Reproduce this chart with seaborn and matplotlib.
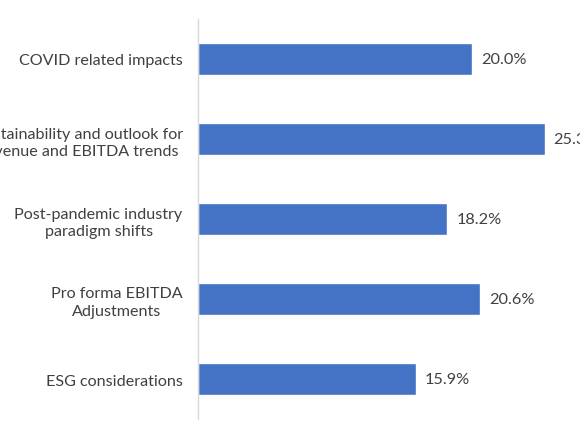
import matplotlib
matplotlib.use('Agg')
import matplotlib.pyplot as plt
import seaborn as sns
import pandas as pd

# Chart data
categories = [
    'COVID related impacts',
    'Sustainability and outlook for\nrevenue and EBITDA trends',
    'Post-pandemic industry\nparadigm shifts',
    'Pro forma EBITDA\nAdjustments',
    'ESG considerations',
]
shares = [20.0, 25.3, 18.2, 20.6, 15.9]

df = pd.DataFrame({'category': categories, 'share': shares})

sns.set_style('white')
plt.rcParams['font.family'] = ['Lato', 'DejaVu Sans']

fig = plt.figure(figsize=(5.8, 4.35), dpi=100)
# axes reaches past the right edge, like the cropped original
ax = fig.add_axes([198 / 580, 15 / 435, 411 / 580, 400 / 435])

sns.barplot(data=df, x='share', y='category', color='#4472C4', width=0.4,
            saturation=1, ax=ax)

for bar, v in zip(ax.patches, shares):
    ax.text(bar.get_width() + 0.65, bar.get_y() + bar.get_height() / 2,
            f'{v:.1f}%', va='center', ha='left', fontsize=11.7, color='#404040')

ax.set_xlim(0, 30)
ax.set_ylim(4.5, -0.5)
ax.set_xlabel('')
ax.set_ylabel('')
ax.set_xticks([])
ax.tick_params(axis='y', length=0, pad=11, labelsize=11.6, labelcolor='#404040')
for lbl in ax.get_yticklabels():
    lbl.set_multialignment('center')
    lbl.set_linespacing(1.35)

for side in ['top', 'right', 'bottom']:
    ax.spines[side].set_visible(False)
ax.spines['left'].set_color('#d9d9d9')
ax.spines['left'].set_linewidth(1)

fig.savefig('out.png', dpi=100)
